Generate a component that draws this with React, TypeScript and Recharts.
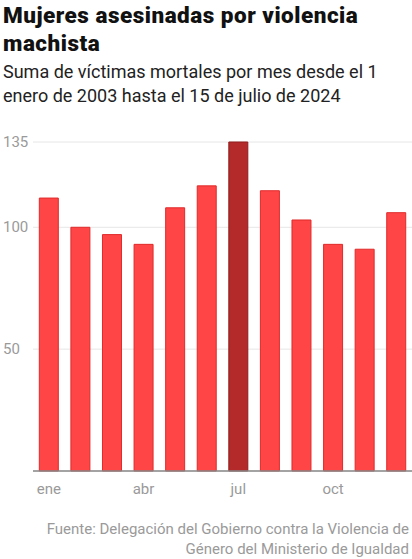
import { BarChart, Bar, XAxis, YAxis, CartesianGrid, Cell } from 'recharts'

const months = ['ene', 'feb', 'mar', 'abr', 'may', 'jun', 'jul', 'ago', 'sep', 'oct', 'nov', 'dic']
const victims = [112, 100, 97, 93, 108, 117, 135, 115, 103, 93, 91, 106]
const highlightMonth = 'jul'
const yTicks = [50, 100, 135]

const data = months.map((m, i) => ({ month: m, value: victims[i] }))

const font = 'Roboto, "Noto Sans", sans-serif'

const YTick = (props: any) => {
  const { y, payload } = props
  return (
    <text x={3} y={y} dy={5} fill="#9a9a9a" fontSize={15} fontFamily={font} textAnchor="start">
      {payload.value}
    </text>
  )
}

export default function App() {
  return (
    <div style={{ position: 'absolute', left: 0, top: 0, width: 412, height: 559, background: '#fff', fontFamily: font }}>
      <div style={{ position: 'absolute', left: 3, top: 1, fontSize: 22.5, fontWeight: 900, letterSpacing: 0.5, lineHeight: '28px', color: '#111' }}>
        Mujeres asesinadas por violencia<br />machista
      </div>
      <div style={{ position: 'absolute', left: 3, top: 60, fontSize: 18, lineHeight: '24px', color: '#222' }}>
        Suma de víctimas mortales por mes desde el 1<br />enero de 2003 hasta el 15 de julio de 2024
      </div>
      <div style={{ position: 'absolute', left: 0, top: 112 }}>
        <BarChart width={412} height={389} data={data} margin={{ top: 30, right: 0, bottom: 0, left: 0 }} barCategoryGap="20%">
          <CartesianGrid vertical={false} stroke="#e6e6e6" />
          <YAxis
            domain={[0, 135]}
            ticks={yTicks}
            width={33}
            axisLine={false}
            tickLine={false}
            tick={<YTick />}
          />
          <XAxis
            dataKey="month"
            interval={2}
            height={30}
            axisLine={{ stroke: '#888', strokeWidth: 1.5 }}
            tickLine={false}
            tick={{ fill: '#9a9a9a', fontSize: 15, fontFamily: font }}
            tickMargin={6}
          />
          <Bar dataKey="value" isAnimationActive={false} strokeWidth={1}>
            {data.map((d) => (
              <Cell
                key={d.month}
                fill={d.month === highlightMonth ? '#b42a2a' : '#ff4545'}
                stroke={d.month === highlightMonth ? '#8f1c1c' : '#e02a2a'}
              />
            ))}
          </Bar>
        </BarChart>
      </div>
      <div style={{ position: 'absolute', right: 3, top: 519, fontSize: 15, lineHeight: '20px', color: '#9a9a9a', textAlign: 'right' }}>
        Fuente: Delegación del Gobierno contra la Violencia de<br />Género del Ministerio de Igualdad
      </div>
    </div>
  )
}
